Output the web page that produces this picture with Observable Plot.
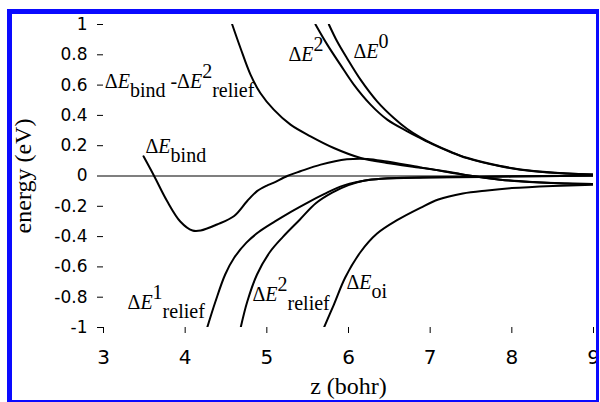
<!DOCTYPE html>
<html>
<head>
<meta charset="utf-8">
<script src="https://cdn.jsdelivr.net/npm/d3@7"></script>
<script src="https://cdn.jsdelivr.net/npm/@observablehq/plot@0.6"></script>
<style>
  html, body { margin: 0; padding: 0; background: #fff; }
  #wrap { position: relative; width: 600px; height: 402px; overflow: hidden; background: #fff; }
  #frame {
    position: absolute; left: 7px; top: 9px; width: 592px; height: 393px;
    box-sizing: border-box; border-style: solid; border-color: #0a0aff;
    border-width: 5px 3px 2px 5px; pointer-events: none;
  }
  svg text { white-space: pre; }
</style>
</head>
<body>
<div id="wrap"><div id="frame"></div></div>
<script>
// Axis ticks
const xTicks = [3, 4, 5, 6, 7, 8, 9];
const yTicks = [-1, -0.8, -0.6, -0.4, -0.2, 0, 0.2, 0.4, 0.6, 0.8, 1];

// Energy components (eV) versus separation z (bohr)
const bindZ = [3.49, 3.62, 3.78, 3.94, 4.09, 4.19, 4.39, 4.6, 4.76, 4.88, 5.0, 5.08, 5.25, 5.41, 5.66, 5.98, 6.23, 6.47, 6.88, 7.25, 7.45, 7.86, 8.27, 8.68, 9.0];
const bindE = [0.13, 0.0, -0.167, -0.30, -0.36, -0.36, -0.32, -0.264, -0.165, -0.10, -0.063, -0.045, 0.0, 0.031, 0.075, 0.11, 0.113, 0.095, 0.057, 0.025, 0.005, -0.024, -0.04, -0.05, -0.053];

const bindNoReliefZ = [4.576, 4.677, 4.80, 4.92, 5.085, 5.29, 5.535, 5.82, 6.15, 6.47, 6.88, 7.04, 7.45, 7.86, 8.27, 8.68, 9.0];
const bindNoReliefE = [1.0, 0.845, 0.669, 0.548, 0.438, 0.339, 0.262, 0.185, 0.119, 0.086, 0.055, 0.042, 0.005, -0.024, -0.042, -0.05, -0.053];

const e2Z = [5.596, 5.74, 5.9, 6.065, 6.27, 6.474, 6.72, 6.88, 7.04, 7.25, 7.45, 7.86, 8.27, 8.68, 9.0];
const e2E = [1.0, 0.867, 0.735, 0.603, 0.471, 0.372, 0.295, 0.25, 0.207, 0.158, 0.118, 0.064, 0.031, 0.016, 0.009];

const e0Z = [5.76, 5.86, 5.98, 6.147, 6.35, 6.555, 6.72, 6.88, 7.04, 7.25, 7.45, 7.86, 8.27, 8.68, 9.0];
const e0E = [1.0, 0.889, 0.779, 0.636, 0.493, 0.383, 0.31, 0.255, 0.21, 0.16, 0.12, 0.066, 0.033, 0.017, 0.01];

const relief1Z = [4.27, 4.37, 4.49, 4.6, 4.75, 4.9, 5.1, 5.3, 5.5, 5.7, 5.9, 6.15, 6.4, 7.0, 8.0, 9.0];
const relief1E = [-1.0, -0.83, -0.65, -0.54, -0.44, -0.37, -0.30, -0.235, -0.175, -0.12, -0.07, -0.035, -0.018, -0.01, -0.004, 0.003];

const relief2Z = [4.68, 4.76, 4.88, 5.04, 5.2, 5.4, 5.6, 5.8, 6.0, 6.2, 6.4, 7.0, 8.0, 9.0];
const relief2E = [-1.0, -0.83, -0.65, -0.5, -0.40, -0.29, -0.18, -0.11, -0.06, -0.03, -0.018, -0.008, -0.002, 0.004];

const oiZ = [5.70, 5.82, 5.96, 6.15, 6.35, 6.6, 6.88, 7.1, 7.4, 7.7, 8.0, 8.5, 9.0];
const oiE = [-1.0, -0.85, -0.67, -0.50, -0.38, -0.29, -0.21, -0.155, -0.115, -0.095, -0.08, -0.066, -0.057];

// Curve labels: *x* = italic, _{..} = subscript, ^{..} = superscript
const labelText = [
  "Δ*E*_{bind} -Δ*E*^{2}_{relief}",
  "Δ*E*^{2}",
  "Δ*E*^{0}",
  "Δ*E*_{bind}",
  "Δ*E*^{1}_{relief}",
  "Δ*E*^{2}_{relief}",
  "Δ*E*_{oi}"
];
const labelZ = [3.016, 5.265, 6.061, 3.514, 3.294, 4.824, 5.975];
const labelE = [0.584, 0.762, 0.776, 0.155, -0.875, -0.822, -0.749];

const curves = [
  ["bind", bindZ, bindE],
  ["bindNoRelief", bindNoReliefZ, bindNoReliefE],
  ["e2", e2Z, e2E],
  ["e0", e0Z, e0E],
  ["relief1", relief1Z, relief1E],
  ["relief2", relief2Z, relief2E],
  ["oi", oiZ, oiE]
];
const rows = curves.flatMap(([key, zs, es]) => zs.map((z, i) => ({key, z, e: es[i]})));
const labels = labelText.map((t, i) => ({t, z: labelZ[i], e: labelE[i]}));

const serif = "'Liberation Serif', 'Times New Roman', serif";
const sans = "'DejaVu Sans', Verdana, sans-serif";

const chart = Plot.plot({
  width: 600,
  height: 402,
  marginLeft: 103,
  marginRight: 7,
  marginTop: 24,
  marginBottom: 75,
  style: {background: "transparent", color: "black"},
  x: {domain: [3, 9]},
  y: {domain: [-1, 1]},
  marks: [
    Plot.axisY({
      ticks: yTicks, tickSize: 6, tickPadding: 10, label: null,
      tickFormat: d => String(Math.round(d * 10) / 10),
      fontSize: 17, fontFamily: sans, line: true
    }),
    Plot.axisX({
      ticks: xTicks, tickSize: 6, tickPadding: 16, label: null,
      tickFormat: d => String(d),
      fontSize: 20, fontFamily: sans, line: true
    }),
    Plot.ruleY([0], {stroke: "black", strokeWidth: 1.2}),
    Plot.line(rows, {
      x: "z", y: "e", z: "key", curve: "catmull-rom",
      stroke: "black", strokeWidth: 2, clip: true
    }),
    Plot.text(labels, {
      x: "z", y: "e", text: "t", textAnchor: "start", lineAnchor: "bottom",
      fontFamily: serif, fontSize: 20, fill: "black"
    }),
    Plot.text(["z (bohr)"], {
      frameAnchor: "bottom", textAnchor: "middle", lineAnchor: "middle", dy: 59,
      fontFamily: serif, fontSize: 24, fill: "black"
    }),
    Plot.text(["energy (eV)"], {
      frameAnchor: "left", textAnchor: "middle", lineAnchor: "middle",
      rotate: -90, dx: -80, dy: 0,
      fontFamily: serif, fontSize: 24, fill: "black"
    })
  ]
});

// Turn the label markup into tspans with italics, subscripts and superscripts
function segments(src) {
  const out = [];
  let i = 0, italic = false, buf = "";
  const flush = shift => { if (buf) out.push({text: buf, italic, shift}); buf = ""; };
  while (i < src.length) {
    const c = src[i];
    if (c === "*") { flush(0); italic = !italic; i++; }
    else if ((c === "_" || c === "^") && src[i + 1] === "{") {
      flush(0);
      const end = src.indexOf("}", i);
      out.push({text: src.slice(i + 2, end), italic: false, shift: c === "_" ? 9 : -10});
      i = end + 1;
    } else { buf += c; i++; }
  }
  flush(0);
  return out;
}
chart.querySelectorAll("text").forEach(node => {
  const src = node.textContent;
  if (!src.includes("*")) return;
  node.textContent = "";
  let cur = 0;
  for (const s of segments(src)) {
    const ts = document.createElementNS("http://www.w3.org/2000/svg", "tspan");
    ts.textContent = s.text;
    if (s.shift !== cur) ts.setAttribute("dy", s.shift - cur);
    cur = s.shift;
    if (s.italic) ts.setAttribute("font-style", "italic");
    node.appendChild(ts);
  }
});

document.getElementById("wrap").prepend(chart);
chart.style.position = "absolute";
chart.style.left = "0px";
chart.style.top = "0px";
</script>
</body>
</html>
